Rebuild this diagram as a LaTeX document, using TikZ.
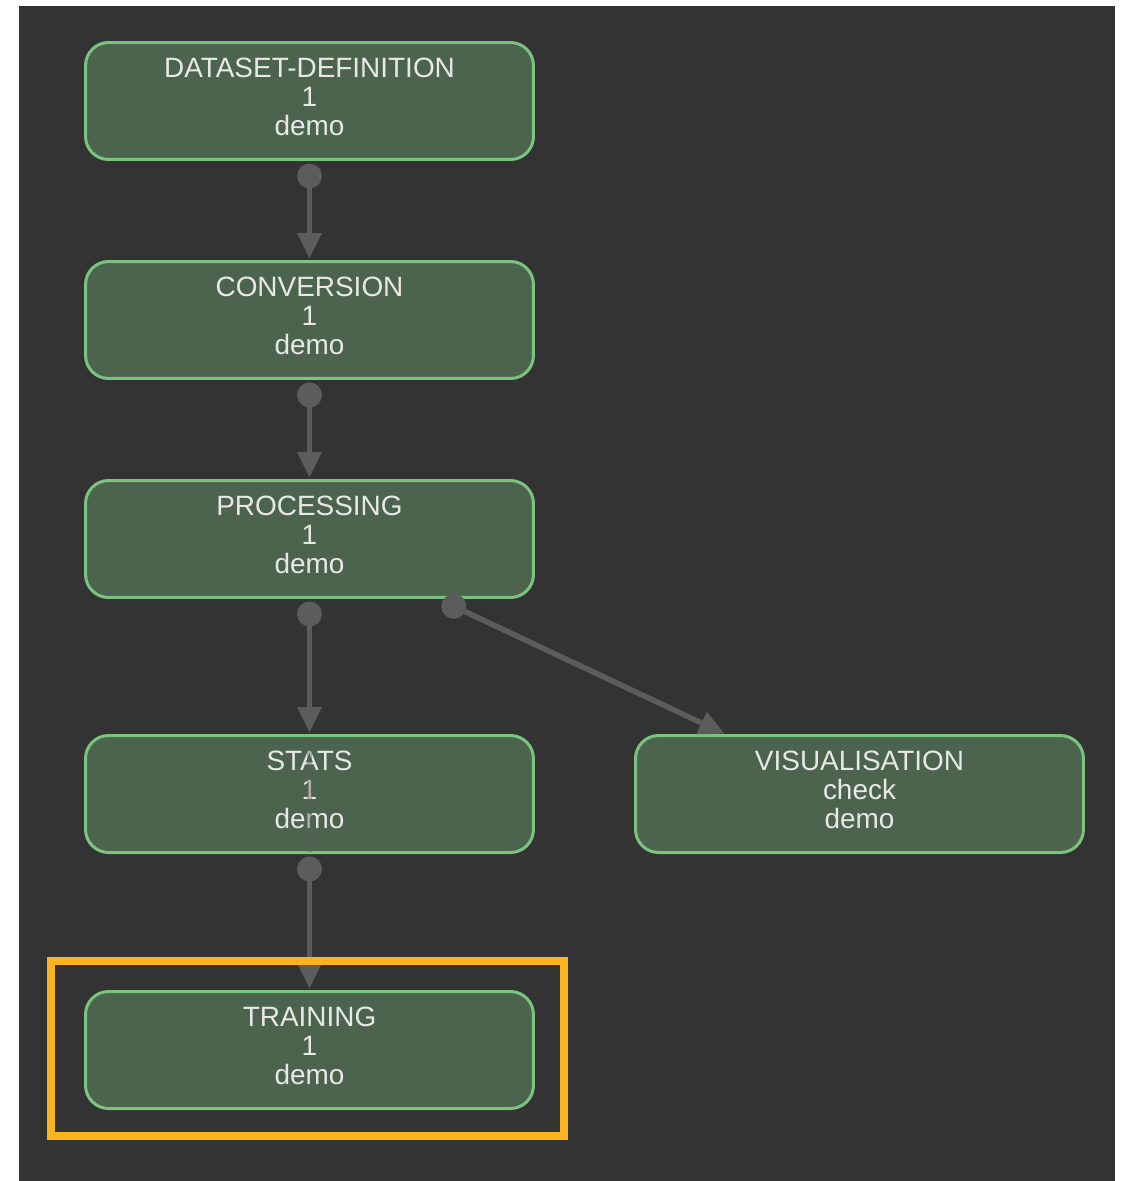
\documentclass[tikz,border=0pt]{standalone}
\usepackage{fontspec}
\setmainfont{Liberation Sans}
\usetikzlibrary{arrows.meta}

\definecolor{bgdark}{HTML}{333333}
\definecolor{jobfill}{HTML}{4C634D}
\definecolor{jobborder}{HTML}{7BC47F}
\definecolor{jobtext}{HTML}{E8E8E8}
\definecolor{linkgray}{HTML}{5C5C5C}
\definecolor{selorange}{HTML}{FBB41F}

\begin{document}
\begin{tikzpicture}[
  x=0.02cm, y=-0.02cm,
  jobnode/.style={rectangle, rounded corners=0.46cm, draw=jobborder, fill=jobfill, line width=0.06cm, minimum width=8.96cm, minimum height=2.34cm, align=center, text=jobtext, text depth=0.16cm, font=\fontsize{15.9pt}{16.5pt}\selectfont},
  link/.style={draw=linkgray, line width=0.11cm, {Circle[length=0.5cm, line width=0pt]}-{Triangle[length=0.5cm, width=0.5cm, line width=0pt]}, shorten <=0.05cm, shorten >=0.04cm},
  selbox/.style={draw=selorange, line width=0.16cm},
]

\useasboundingbox (0,0) rectangle (1128,1181);
\fill[bgdark] (19,6) rectangle (1115,1181);

\node[jobnode] (dsdef) at (309.5,101) {DATASET-DEFINITION\\1\\demo};
\node[jobnode] (conv) at (309.5,320) {CONVERSION\\1\\demo};
\node[jobnode] (proc) at (309.5,539) {PROCESSING\\1\\demo};
\node[jobnode] (stats) at (309.5,794) {STATS\\1\\demo};
\node[jobnode] (vis) at (859.5,794) {VISUALISATION\\check\\demo};
\node[jobnode] (train) at (309.5,1050) {TRAINING\\1\\demo};

\draw[link] (dsdef) -- (conv);
\draw[link] (conv) -- (proc);
\draw[link] (proc) -- (stats);
\draw[link] (stats) -- (train);
\draw[link, shorten <=0pt, shorten >=0.02cm] ([xshift=2.66cm,yshift=-0.04cm]proc.south) -- ([xshift=1.82cm]vis.north west);
\draw[link, -, opacity=0.4] (stats.north) -- (stats.south);

\draw[selbox] ([xshift=-0.66cm,yshift=0.59cm]train.north west) rectangle ([xshift=0.59cm,yshift=-0.52cm]train.south east);

\end{tikzpicture}
\end{document}
